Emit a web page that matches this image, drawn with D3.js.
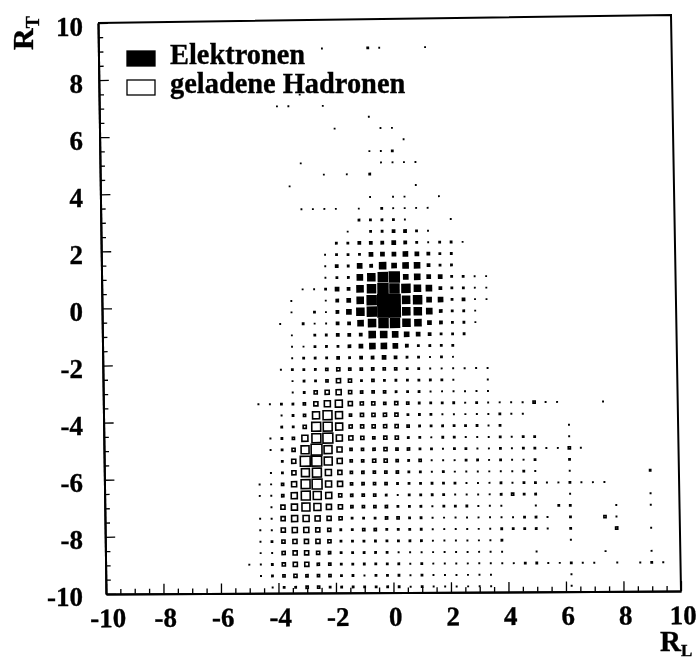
<!DOCTYPE html>
<html>
<head>
<meta charset="utf-8">
<script src="https://cdn.jsdelivr.net/npm/d3@7/dist/d3.min.js"></script>
<style>
html,body{margin:0;padding:0;background:#fff;overflow:hidden}
#chart{filter:blur(.3px)}
text{font-family:"Liberation Serif",serif;font-weight:bold;fill:#000;stroke:#000;stroke-width:.35px}
</style>
</head>
<body>
<svg id="chart" width="698" height="661"></svg>
<script>
// Each row: [R_T, [R_L, count, R_L, count, ...]]
const elektronen = [
[9,[-2.2,1,-.6,4,-.2,1,1.4,1]],
[7.4,[-3,1]],
[7,[-3.8,1,-3.4,1,-2.2,1]],
[6.6,[-.6,1]],
[6.2,[-1.8,1,-.2,1,.2,1]],
[5.8,[.6,1]],
[5.4,[-.6,1,-.2,1,.2,4]],
[5,[-3,1,-.2,1,.2,1,.6,1,1,1]],
[4.6,[-2.2,1,-1.4,1,-.6,4]],
[4.2,[-3.4,1,1,1]],
[3.8,[-.6,1,.2,1,.6,1,1.8,1]],
[3.4,[-3,1,-2.6,1,-2.2,1,-1.8,1,-1,1,-.2,4,.2,1,.6,1,1,1,1.4,1]],
[3,[-1,4,-.6,4,-.2,4,.2,4,.6,1,2.2,1]],
[2.6,[-1.4,1,-.6,4,-.2,4,.2,9,.6,9,1,4,1.4,1]],
[2.2,[-1.8,4,-1.4,4,-1,9,-.6,9,-.2,9,.2,16,.6,9,1,4,1.4,1,1.8,4,2.2,4,2.6,1]],
[1.8,[-2.2,1,-1.8,4,-1.4,4,-1,4,-.6,16,-.2,16,.2,16,.6,25,1,16,1.4,9,1.8,4,2.2,4]],
[1.4,[-2.2,1,-1.8,9,-1.4,4,-1,25,-.6,9,-.2,49,.2,25,.6,36,1,36,1.4,9,1.8,4,2.2,4]],
[1,[-2.2,1,-1.8,4,-1.4,4,-1,36,-.6,64,-.2,100,.2,121,.6,25,1,36,1.4,16,1.8,16,2.2,4,2.6,4,3,1,3.4,1]],
[.6,[-3,1,-2.6,1,-2.2,4,-1.8,16,-1.4,9,-1,49,-.6,81,-.2,121,.2,100,.6,81,1,49,1.4,36,1.8,9,2.2,4,2.6,4,3,1,3.4,1]],
[.2,[-3.4,1,-2.2,1,-1.8,9,-1.4,16,-1,49,-.6,100,-.2,144,.2,144,.6,64,1,81,1.4,25,1.8,25,2.2,4,2.6,9,3,1,3.4,1]],
[-.2,[-3.4,1,-2.6,4,-2.2,1,-1.8,9,-1.4,25,-1,64,-.6,100,-.2,144,.2,144,.6,64,1,64,1.4,36,1.8,9,2.2,4,2.6,4,3,1]],
[-.6,[-3.8,1,-3,4,-2.6,1,-2.2,1,-1.8,9,-1.4,9,-1,36,-.6,64,-.2,100,.2,100,.6,64,1,49,1.4,16,1.8,9,2.2,4,2.6,4,3,1]],
[-1,[-3.4,1,-2.6,4,-2.2,4,-1.8,9,-1.4,9,-1,9,-.6,49,-.2,49,.2,36,.6,25,1,16,1.4,9,1.8,4,2.2,4,2.6,4]],
[-1.4,[-3.4,1,-3,1,-2.6,4,-2.2,4,-1.8,4,-1.4,9,-1,16,-.6,36,-.2,36,.2,25,.6,9,1,4,1.4,4,1.8,4,2.2,4]],
[-1.8,[-3.4,1,-3,4,-2.6,4,-2.2,4,-1.8,9,-1.4,4,-1,9,-.6,9,-.2,16,.2,9,.6,4,1,4,1.4,1,1.8,4,2.2,1]]
];
const hadronen = [
[-2.2,[-3.8,1,-3.4,4,-3,4,-2.6,4,-2.2,9,-1.8,16,-1.4,9,-1,9,-.6,9,-.2,9,.2,9,.6,4,1,4,1.4,1,1.8,1,2.2,1,2.6,1,3,1,3.4,1]],
[-2.6,[-3.4,1,-3,4,-2.6,4,-2.2,9,-1.8,25,-1.4,16,-1,4,-.6,9,-.2,4,.2,4,.6,4,1,4,1.4,4,1.8,4,2.2,1,3.4,1]],
[-3,[-3.4,1,-3,4,-2.6,16,-2.2,25,-1.8,36,-1.4,16,-1,9,-.6,9,-.2,9,.2,4,.6,4,1,4,1.4,1,1.8,1,2.2,1,2.6,1,3,1,3.4,1]],
[-3.4,[-4.6,1,-4.2,1,-3.8,4,-3.4,4,-3,9,-2.6,25,-2.2,49,-1.8,64,-1.4,25,-1,16,-.6,16,-.2,9,.2,16,.6,9,1,4,1.4,4,1.8,4,2.2,4,2.6,1,3,4,3.4,1,3.8,1,4.2,1,4.6,1,5,9,5.4,1,5.8,1,7.4,1]],
[-3.8,[-3.8,1,-3.4,4,-3,9,-2.6,64,-2.2,100,-1.8,64,-1.4,9,-1,16,-.6,16,-.2,16,.2,16,.6,4,1,4,1.4,4,1.8,1,2.2,1,2.6,1,3,1,3.4,1,3.8,4,4.2,1,4.6,1]],
[-4.2,[-3.8,4,-3.4,4,-3,16,-2.6,100,-2.2,100,-1.8,64,-1.4,16,-1,16,-.6,16,-.2,16,.2,16,.6,9,1,4,1.4,4,1.8,4,2.2,4,2.6,4,3,4,3.4,1,3.8,4,6.2,1]],
[-4.6,[-4.2,1,-3.8,4,-3.4,9,-3,49,-2.6,100,-2.2,121,-1.8,49,-1.4,25,-1,16,-.6,9,-.2,16,.2,16,.6,4,1,4,1.4,1,1.8,4,2.2,4,2.6,1,3,1,3.4,1,3.8,4,4.2,1,4.6,4,5,4,6.2,1]],
[-5,[-4.2,1,-3.8,4,-3.4,16,-3,81,-2.6,144,-2.2,81,-1.8,36,-1.4,9,-1,9,-.6,9,-.2,16,.2,9,.6,9,1,4,1.4,4,1.8,1,2.2,4,2.6,4,3,1,3.4,1,3.8,4,4.2,1,4.6,4,5,4,5.4,1,5.8,1,6.2,9,6.6,1]],
[-5.4,[-3.8,4,-3.4,25,-3,121,-2.6,121,-2.2,81,-1.8,36,-1.4,9,-1,9,-.6,16,-.2,16,.2,9,.6,4,1,9,1.4,1,1.8,1,2.2,1,2.6,4,3,4,3.4,1,3.8,4,4.2,1,4.6,1,5,4,6.2,4]],
[-5.8,[-4.2,1,-3.8,4,-3.4,25,-3,81,-2.6,100,-2.2,49,-1.8,25,-1.4,9,-1,9,-.6,9,-.2,9,.2,9,.6,4,1,4,1.4,1,1.8,4,2.2,1,2.6,1,3,1,3.4,1,3.8,1,4.2,1,4.6,4,5,1,6.2,1,9,4]],
[-6.2,[-4.6,1,-4.2,1,-3.8,9,-3.4,36,-3,100,-2.6,121,-2.2,49,-1.8,36,-1.4,9,-1,9,-.6,9,-.2,9,.2,4,.6,4,1,4,1.4,4,1.8,4,2.2,4,2.6,1,3,1,3.4,1,3.8,4,4.2,1,4.6,4,5,4,5.4,1,5.8,1,6.2,4,6.6,1,7,1,7.4,1]],
[-6.6,[-4.6,1,-4.2,1,-3.8,9,-3.4,49,-3,100,-2.6,81,-2.2,49,-1.8,16,-1.4,9,-1,9,-.6,9,-.2,4,.2,1,.6,4,1,4,1.4,4,1.8,4,2.2,1,2.6,1,3,1,3.4,1,3.8,4,4.2,9,4.6,4,5,4,6.2,1,9,1]],
[-7,[-4.2,1,-3.8,25,-3.4,49,-3,81,-2.6,64,-2.2,36,-1.8,25,-1.4,9,-1,9,-.6,9,-.2,9,.2,4,.6,4,1,4,1.4,1,1.8,4,2.2,4,2.6,4,3,1,3.4,1,3.8,1,5,1,5.8,4,6.2,4,7.8,1,9,1]],
[-7.4,[-4.6,1,-4.2,1,-3.8,25,-3.4,49,-3,49,-2.6,36,-2.2,25,-1.8,16,-1.4,4,-1,4,-.6,4,-.2,9,.2,9,.6,4,1,4,1.4,1,1.8,1,2.2,1,2.6,1,3,1,3.4,1,3.8,1,4.2,1,4.6,4,5,4,5.4,1,6.2,4,7.4,9,7.8,1]],
[-7.8,[-4.6,1,-4.2,1,-3.8,25,-3.4,36,-3,36,-2.6,25,-2.2,16,-1.8,4,-1.4,4,-1,9,-.6,9,-.2,4,.2,4,.6,4,1,4,1.4,1,1.8,1,2.2,1,2.6,1,3,1,3.4,1,3.8,4,4.2,4,4.6,4,5,4,5.4,1,6.2,4,7.8,9,9,1]],
[-8.2,[-4.6,1,-4.2,4,-3.8,16,-3.4,25,-3,25,-2.6,25,-2.2,16,-1.8,4,-1.4,4,-1,4,-.6,4,-.2,4,.2,4,.6,4,1,4,1.4,1,1.8,1,2.2,1,2.6,1,3,1,3.4,1,3.8,4,6.2,1]],
[-8.6,[-4.6,1,-4.2,1,-3.8,16,-3.4,25,-3,25,-2.6,16,-2.2,9,-1.8,4,-1.4,4,-1,4,-.6,4,-.2,4,.2,1,.6,1,1,1,1.4,1,1.8,1,2.2,1,2.6,1,3,1,3.4,1,3.8,1,5,1,7.4,1,9,1]],
[-9,[-5,1,-4.6,1,-4.2,4,-3.8,16,-3.4,25,-3,25,-2.6,9,-2.2,9,-1.8,4,-1.4,4,-1,4,-.6,4,-.2,4,.2,4,.6,1,1,4,1.4,1,1.8,1,2.2,1,2.6,1,3,1,3.4,1,3.8,1,4.2,1,4.6,4,5,4,5.4,1,5.8,1,6.2,4,6.6,1,7,1,7.8,1,8.6,1,9,4,9.4,1]],
[-9.4,[-4.6,1,-4.2,4,-3.8,9,-3.4,16,-3,9,-2.6,9,-2.2,9,-1.8,4,-1.4,4,-1,1,-.6,4,-.2,4,.2,4,.6,1,1,4,1.4,1,1.8,1,2.2,1,2.6,1,3,1,3.4,1,6.2,1]],
[-9.8,[-4.2,1,-3.8,4,-3.4,4,-3,9,-2.6,9,-2.2,4,-1.8,4,-1.4,4,-1,4,-.6,4,-.2,4,.2,4,.6,1,1,4,1.4,1,1.8,1,2.2,1,2.6,1,3,1,3.4,1,6.2,1]]
];
const majorTicks = [-10,-8,-6,-4,-2,0,2,4,6,8,10];
const minorTicks = d3.range(-10,10.01,0.5).filter(t => !majorTicks.includes(t));
const legendLabels = ["Elektronen","geladene Hadronen"];

const flat = rows => rows.flatMap(([rt,p]) => d3.range(0,p.length,2).map(i => ({rl:p[i],rt,n:p[i+1]})));

// The scanned frame is a slightly warped quadrilateral.
const corner = {tl:[98,23],tr:[671,15],bl:[106,594],br:[681,591]};
const plotW = 575, plotH = 571;
const x = d3.scaleLinear().domain([-10,10]).range([0,plotW]);
const y = d3.scaleLinear().domain([-10,10]).range([plotH,0]);
const side = d3.scaleSqrt().domain([0,144]).range([0.9,12.4]);
function warp(px,py){
  const u=px/plotW, v=py/plotH;
  const m=(a,b,t)=>a+(b-a)*t;
  return [0,1].map(k=>m(m(corner.tl[k],corner.tr[k],u),m(corner.bl[k],corner.br[k],u),v));
}
const svg = d3.select("#chart");
const deg = r => r*180/Math.PI;
const angB = deg(Math.atan2(corner.br[1]-corner.bl[1],corner.br[0]-corner.bl[0]));
const angL = -deg(Math.atan2(corner.bl[0]-corner.tl[0],corner.bl[1]-corner.tl[1]));
const markRot = -0.55;

function place(sel){
  return sel.attr("transform",d=>{
    const [a,b]=warp(x(d.rl),y(d.rt));
    return `translate(${a},${b}) rotate(${markRot})`;
  });
}
const sw = 1.6;
const inner = d => Math.max(side(d.n)-sw,0.1);
place(svg.append("g").attr("class","hadronen").selectAll("rect").data(flat(hadronen)).join("rect"))
  .attr("x",d=>-inner(d)/2).attr("y",d=>-inner(d)/2)
  .attr("width",inner).attr("height",inner)
  .attr("fill","#fff").attr("stroke","#000").attr("stroke-width",d=>d.n<=1?1.7:sw);
place(svg.append("g").attr("class","elektronen").selectAll("rect").data(flat(elektronen)).join("rect"))
  .attr("x",d=>-side(d.n)/2).attr("y",d=>-side(d.n)/2)
  .attr("width",d=>side(d.n)).attr("height",d=>side(d.n)).attr("fill","#000");

// Axes
const bottom = svg.append("g").attr("transform",`translate(${corner.bl}) rotate(${angB})`);
bottom.append("g").call(d3.axisBottom(x).tickValues(minorTicks).tickSizeInner(-5).tickSizeOuter(0).tickFormat(""));
bottom.append("g").attr("class","xMajor").call(d3.axisBottom(x).tickValues(majorTicks).tickSizeInner(-10).tickSizeOuter(0).tickPadding(14).tickFormat(d=>String(d)));
const left = svg.append("g").attr("transform",`translate(${corner.tl}) rotate(${angL})`);
left.append("g").call(d3.axisLeft(y).tickValues(minorTicks).tickSizeInner(-5).tickSizeOuter(0).tickFormat(""));
left.append("g").call(d3.axisLeft(y).tickValues(majorTicks).tickSizeInner(-10).tickSizeOuter(0).tickFormat(""));
const yLab = d3.scaleLinear().domain([-10,10]).range([597,27]);
svg.append("g").attr("transform","translate(83,0)")
  .call(d3.axisLeft(yLab).tickValues(majorTicks).tickSize(0).tickPadding(0).tickFormat(d=>String(d)))
  .call(g=>g.select(".domain").remove());
svg.selectAll(".tick text").attr("font-size",27).attr("font-family",null);
svg.selectAll(".xMajor .tick text").attr("dx",1.5);
svg.selectAll(".domain").attr("stroke-width",2);
svg.selectAll(".tick line").attr("stroke-width",1.3);

// Top and right frame lines
const frame = d3.line();
svg.append("path").attr("fill","none").attr("stroke","#000").attr("stroke-width",2)
  .attr("d",frame([warp(x(-10),y(10)),warp(x(10),y(10)),warp(x(10),y(-10))]));

// Axis titles
const rt = svg.append("text").attr("transform","translate(33,50) rotate(-90)").attr("font-size",30);
rt.append("tspan").text("R");
rt.append("tspan").attr("font-size",18).attr("dy",6).text("T");
const rl = svg.append("text").attr("x",660).attr("y",651).attr("font-size",29);
rl.append("tspan").text("R");
rl.append("tspan").attr("font-size",17).attr("dy",5).text("L");

// Legend
const legendY = d3.scalePoint().domain(legendLabels).range([58.5,87.5]);
const leg = svg.append("g").selectAll("g").data(legendLabels).join("g")
  .attr("transform",d=>`translate(0,${legendY(d)})`);
leg.append("rect").attr("x",127).attr("y",-7.5).attr("width",28).attr("height",15)
  .attr("fill",(d,i)=>i?"#fff":"#000").attr("stroke","#000").attr("stroke-width",1.3);
leg.append("text").attr("x",170).attr("y",5.5).attr("font-size",28.4).text(d=>d);
</script>
</body>
</html>
